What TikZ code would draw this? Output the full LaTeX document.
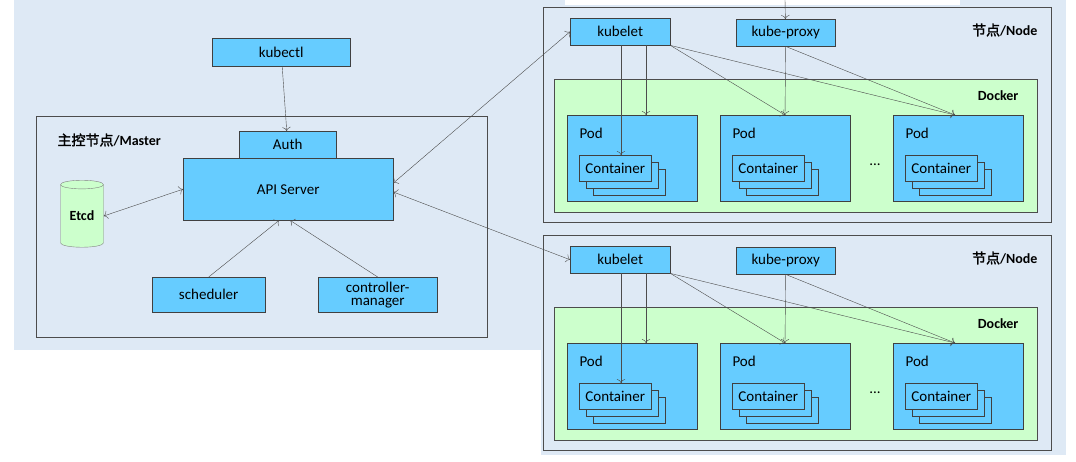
\documentclass[tikz,border=0pt]{standalone}
\usepackage{fontspec}
\setmainfont{Carlito}
\newfontfamily\cjk{Noto Sans CJK SC}[AutoFakeBold=2]
\usetikzlibrary{shapes.geometric,arrows.meta}
\definecolor{bgblue}{HTML}{DEE9F5}
\definecolor{boxblue}{HTML}{66CCFF}
\definecolor{dockgreen}{HTML}{CCFFCC}
\tikzset{
	box/.style = {draw=black!75, fill=boxblue, anchor=north west, inner sep=0pt, font=\fontsize{15}{16}\selectfont, align=center},
	area/.style = {draw=black!70, anchor=north west, inner sep=0pt},
	link/.style = {draw=black!70, -{To[length=4pt]}},
	title/.style = {font=\bfseries\fontsize{14}{15}\selectfont}
}
\begin{document}
\begin{tikzpicture}[x=1pt, y=-1pt]
	\useasboundingbox (0,0) rectangle (1076,461);
	\fill[bgblue] (14,0) rectangle (541,350);
	\fill[bgblue] (541,0) rectangle (1066,455);
	\fill[white] (565,0) rectangle (960,5);

	% master side
	\node[area, minimum width=451, minimum height=221] (master) at (36,116) {};
	\node[title, anchor=west] (mlabel) at (54,140) {{\cjk\bfseries 主控节点}/Master};
	\node[box, minimum width=138, minimum height=28] (kubectl) at (212,38) {kubectl};
	\node[box, minimum width=97, minimum height=27] (auth) at (239,131) {Auth};
	\node[box, minimum width=210, minimum height=62] (api) at (183,158) {API Server};
	\node[cylinder, shape border rotate=90, aspect=0.35, draw=black!50, fill=dockgreen,
		minimum width=43, minimum height=67, inner sep=0pt, font=\bfseries\fontsize{14}{15}\selectfont] (etcd) at (82,216) {Etcd};
	\node[box, minimum width=113, minimum height=35] (sched) at (152,277) {scheduler};
	\node[box, minimum width=119, minimum height=35, font=\fontsize{15}{13}\selectfont] (ctrl) at (318,277) {controller-\\manager};

	\draw[link] (kubectl) -- (auth);
	\draw[link, {To[length=4pt]}-{To[length=4pt]}] (etcd.east) -- (api.west);
	\draw[link] (sched.north) -- (api.south -| 279,0);
	\draw[link] (ctrl.north) -- ([xshift=2pt]api.south);

	% worker nodes
	\foreach \n/\dy in {1/0, 2/228} {
		\begin{scope}[yshift=-\dy]
			\node[area, minimum width=508, minimum height=215] (node\n) at (543,7) {};
			\node[title, anchor=east] (nlabel\n) at (1041,30) {{\cjk\bfseries 节点}/Node};
			\node[area, fill=dockgreen, minimum width=483, minimum height=133] (docker\n) at (554,79) {};
			\node[title, anchor=east] (dlabel\n) at (1022,96) {Docker};
			\node[box, minimum width=100, minimum height=27] (kubelet\n) at (570,18) {kubelet};
			\node[box, minimum width=99, minimum height=27] (proxy\n) at (736,19) {kube-proxy};
			\foreach \p/\px in {a/567, b/720, c/893} {
				\node[box, minimum width=130, minimum height=86] (pod\n\p) at (\px,115) {};
				\node[anchor=west, font=\fontsize{15}{16}\selectfont] (podl\n\p) at (\px+9,133) {Pod};
				\node[box, minimum width=72, minimum height=26] (cc\n\p) at (\px+26,169) {};
				\node[box, minimum width=72, minimum height=26] (cb\n\p) at (\px+19,162) {};
				\node[box, minimum width=72, minimum height=26] (ca\n\p) at (\px+12,155) {Container};
			}
			\node[font=\fontsize{15}{16}\selectfont] (dots\n) at (875,165) {...};
			\draw[link] (kubelet\n.south -| 621,0) -- (ca\n a.north -| 621,0);
			\draw[link] (kubelet\n.south -| 646,0) -- (pod\n a.north -| 646,0);
			\draw[link] (kubelet\n.south east) -- (pod\n b.north -| 785,0);
			\draw[link] (kubelet\n.south east) -- (pod\n c.north -| 955,0);
			\draw[link] (proxy\n.south) -- (pod\n b.north -| 785,0);
			\draw[link] (proxy\n.south) -- (pod\n c.north -| 955,0);
		\end{scope}
	}
	\coordinate (top) at (785,0);
	\draw[link] (top) -- (proxy1);
	\draw[link, {To[length=4pt]}-{To[length=4pt]}] ([yshift=-25pt]api.north east) -- (kubelet1.west);
	\draw[link, {To[length=4pt]}-{To[length=4pt]}] ([yshift=-34pt]api.north east) -- (kubelet2.west);
\end{tikzpicture}
\end{document}
